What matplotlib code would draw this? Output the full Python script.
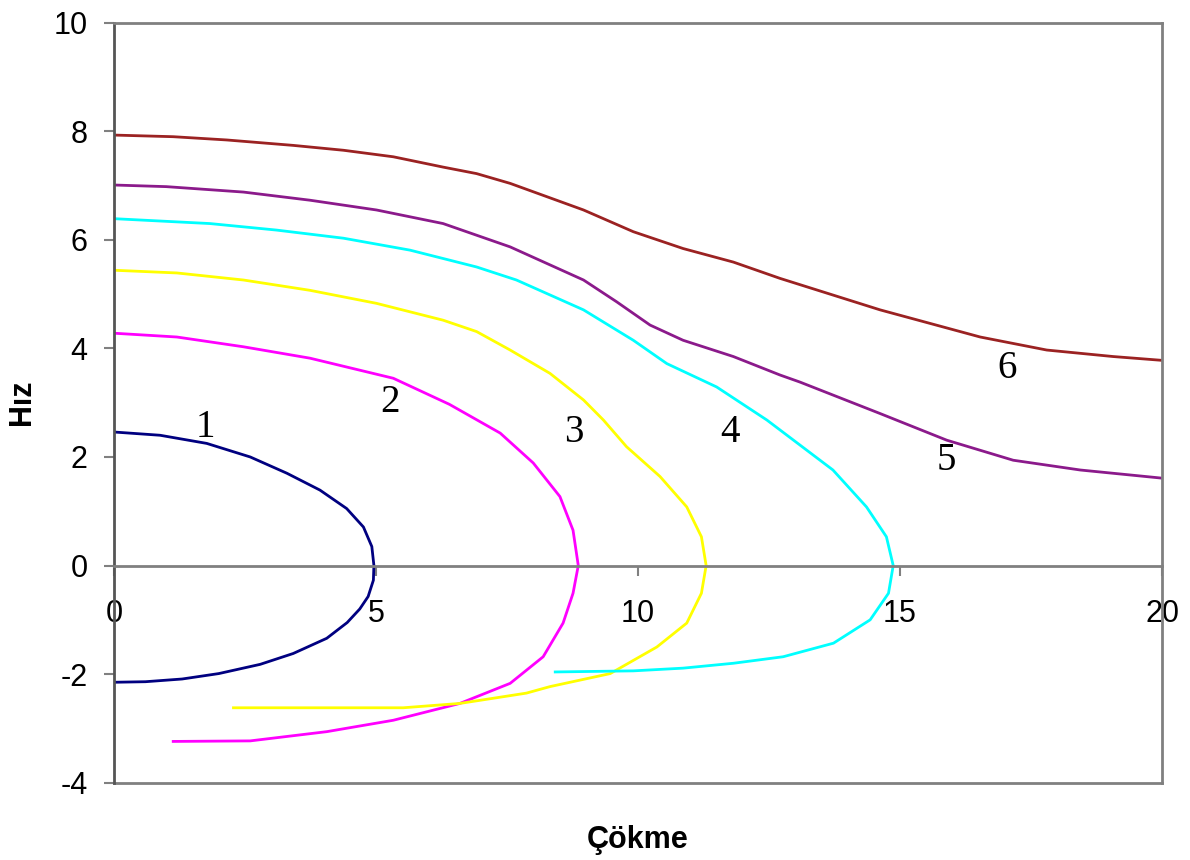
import matplotlib
matplotlib.use('Agg')
import matplotlib.pyplot as plt

# Curve data (Çökme vs Hız)
c1_x = [0, 0.88, 1.77, 2.6, 3.3, 3.93, 4.44, 4.76, 4.92, 4.96, 4.95, 4.85, 4.69, 4.45, 4.06, 3.42, 2.79, 2.0, 1.3, 0.6, 0]
c1_y = [2.46, 2.40, 2.25, 2.0, 1.70, 1.39, 1.05, 0.71, 0.35, 0, -0.27, -0.57, -0.80, -1.05, -1.34, -1.62, -1.82, -1.99, -2.09, -2.14, -2.15]

c2_x = [0, 1.2, 2.47, 3.74, 5.33, 6.4, 7.37, 8.0, 8.51, 8.76, 8.86, 8.76, 8.57, 8.19, 7.56, 6.6, 5.33, 4.06, 2.6, 1.13]
c2_y = [4.28, 4.21, 4.03, 3.82, 3.45, 2.97, 2.44, 1.89, 1.27, 0.65, 0, -0.51, -1.06, -1.68, -2.17, -2.54, -2.85, -3.06, -3.23, -3.24]

c3_x = [0, 1.2, 2.47, 3.74, 5.01, 6.28, 6.92, 7.56, 8.32, 8.96, 9.34, 9.78, 10.42, 10.93, 11.21, 11.3, 11.21, 10.93, 10.36, 9.47, 8.32, 7.87, 6.6, 5.52, 3.5, 2.28]
c3_y = [5.44, 5.39, 5.26, 5.07, 4.83, 4.52, 4.31, 3.97, 3.54, 3.05, 2.68, 2.19, 1.64, 1.08, 0.53, 0, -0.51, -1.06, -1.5, -1.99, -2.23, -2.35, -2.54, -2.62, -2.62, -2.62]

c4_x = [0, 1.83, 3.1, 4.38, 5.65, 6.92, 7.68, 8.96, 9.91, 10.55, 11.5, 12.46, 13.72, 14.36, 14.74, 14.87, 14.78, 14.43, 13.73, 12.77, 11.82, 10.86, 9.91, 8.42]
c4_y = [6.39, 6.30, 6.18, 6.03, 5.81, 5.50, 5.26, 4.71, 4.15, 3.72, 3.29, 2.68, 1.76, 1.08, 0.53, 0, -0.51, -1.0, -1.43, -1.68, -1.8, -1.89, -1.94, -1.96]

c5_x = [0, 1.0, 2.47, 3.74, 5.01, 6.28, 7.56, 8.96, 9.59, 10.23, 10.86, 11.82, 12.71, 13.09, 14.62, 15.89, 17.16, 18.44, 20]
c5_y = [7.01, 6.98, 6.88, 6.73, 6.55, 6.30, 5.87, 5.26, 4.86, 4.43, 4.15, 3.85, 3.51, 3.38, 2.80, 2.31, 1.94, 1.76, 1.61]

c6_x = [0, 1.13, 2.15, 3.42, 4.38, 5.33, 6.28, 6.92, 7.56, 8.96, 9.91, 10.86, 11.82, 12.71, 14.62, 16.53, 17.8, 19.07, 20]
c6_y = [7.93, 7.90, 7.84, 7.74, 7.65, 7.53, 7.34, 7.22, 7.04, 6.55, 6.15, 5.84, 5.59, 5.29, 4.71, 4.21, 3.97, 3.85, 3.78]

curves = [(c1_x, c1_y, '#000080'), (c2_x, c2_y, '#FF00FF'), (c3_x, c3_y, '#FFFF00'),
          (c4_x, c4_y, '#00FFFF'), (c5_x, c5_y, '#8B1A8B'), (c6_x, c6_y, '#9B2222')]

labels = ['1', '2', '3', '4', '5', '6']
label_x = [1.74, 5.27, 8.78, 11.76, 15.89, 17.04]
label_y = [2.55, 3.01, 2.46, 2.46, 1.94, 3.63]

plt.rcParams['font.family'] = ['Liberation Sans', 'DejaVu Sans']
plt.rcParams['axes.unicode_minus'] = False

fig = plt.figure(figsize=(11.9, 8.6), dpi=100)
ax = fig.add_axes([0.0958, 0.0899, 0.8807, 0.8837])

for x, y, c in curves:
    ax.plot(x, y, color=c, linewidth=2.0)

for t, lx, ly in zip(labels, label_x, label_y):
    ax.text(lx, ly, t, fontsize=28, family=['Liberation Serif'], ha='center', va='center')

ax.set_xlim(0, 20)
ax.set_ylim(-4, 10)
ax.set_xticks([0, 5, 10, 15, 20])
ax.set_yticks([-4, -2, 0, 2, 4, 6, 8, 10])

gray = '#808080'
for s in ax.spines.values():
    s.set_color(gray)
    s.set_linewidth(2)
ax.spines['left'].set_color('#555555')
ax.spines['bottom'].set_position(('data', 0))
ax.axhline(-4, color=gray, linewidth=2, clip_on=False, zorder=0.5)

ax.tick_params(axis='x', direction='out', length=7, width=1.5, pad=17, labelsize=22, colors=gray, labelcolor='black')
ax.tick_params(axis='y', direction='out', length=7, width=1.5, pad=12, labelsize=22, colors=gray, labelcolor='black')

ax.set_ylabel('Hız', fontsize=22, fontweight='bold')
ax.yaxis.set_label_coords(-0.073, 0.5)
fig.text(0.536, 0.023, 'Çökme', fontsize=22, fontweight='bold', ha='center', va='center')

plt.savefig('out.png', dpi=100)
